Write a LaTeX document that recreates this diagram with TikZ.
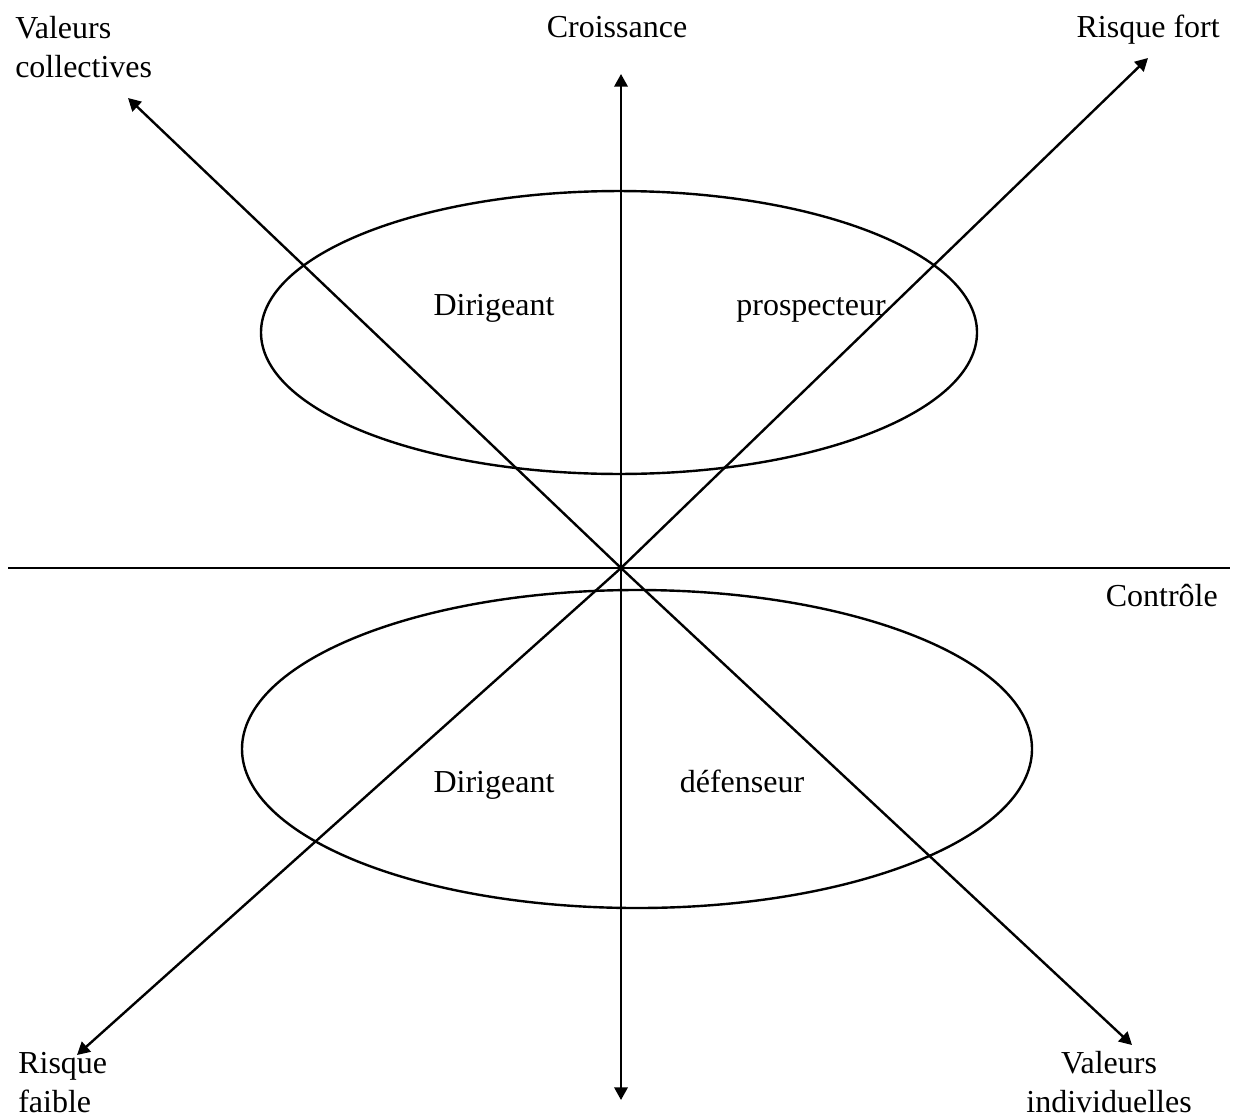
\documentclass[tikz,border=0pt]{standalone}
\usepackage{fontspec}
\setmainfont{Liberation Serif}
\usetikzlibrary{arrows.meta}
\begin{document}
\begin{tikzpicture}[x=0.75pt,y=-0.75pt,
  axis/.style={line width=1.8pt,line cap=butt},
  twoway/.style={axis,{Triangle[length=9.5pt,width=10pt]}-{Triangle[length=9.5pt,width=10pt]}},
  zone/.style={line width=1.8pt},
  lbl/.style={inner sep=0pt,font=\fontsize{24}{29}\selectfont}]
\useasboundingbox (0,0) rectangle (1234,1117);

% axis end points
\coordinate (O)  at (621,568);
\coordinate (N)  at (621,74);
\coordinate (S)  at (621,1100);
\coordinate (W)  at (8,568);
\coordinate (E)  at (1230,568);
\coordinate (NW) at (128,98);
\coordinate (SE) at (1132,1045);
\coordinate (NE) at (1148,58);
\coordinate (SW) at (77,1055);

% the two zones
\draw[zone] (619,332.5) ellipse [x radius=268.5pt, y radius=106.1pt];
\draw[zone] (637,749) ellipse [x radius=296.25pt, y radius=119.25pt];

% axes
\draw[axis] (W) -- (E);
\draw[twoway] (S) -- (N);
\draw[twoway] (NW) -- (O) -- (SE);
\draw[twoway] (SW) -- (O) -- (NE);

% axis labels (multi-line labels are placed by their last baseline)
\node[lbl,anchor=base west,align=left] (vc) at (15,77) {Valeurs\\collectives};
\node[lbl,anchor=base] (cr) at (617,37) {Croissance};
\node[lbl,anchor=base east] (rf) at (1220,37) {Risque fort};
\node[lbl,anchor=base east] (ct) at (1218,606) {Contrôle};
\node[lbl,anchor=base west,align=left] (rfa) at (18,1112) {Risque\\faible};
\node[lbl,anchor=base,align=center] (vi) at (1109,1112) {Valeurs\\individuelles};

% zone labels
\node[lbl,anchor=base] (d1) at (494,315) {Dirigeant};
\node[lbl,anchor=base] (pr) at (811,315) {prospecteur};
\node[lbl,anchor=base] (d2) at (494,792) {Dirigeant};
\node[lbl,anchor=base] (df) at (742,792) {défenseur};
\end{tikzpicture}
\end{document}
